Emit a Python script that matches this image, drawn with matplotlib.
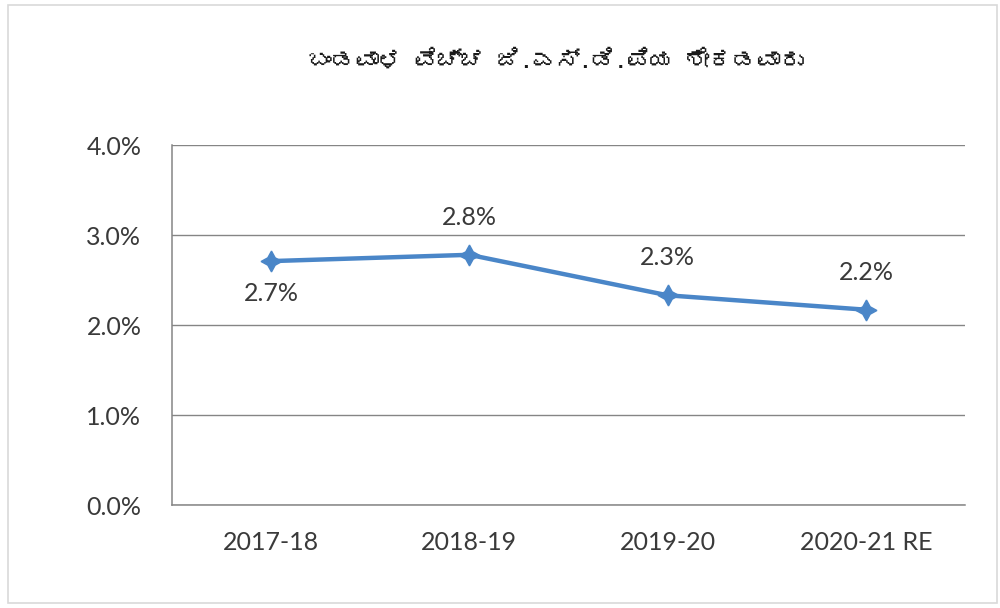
import matplotlib
matplotlib.use("Agg")
import matplotlib.pyplot as plt
from matplotlib import font_manager
from matplotlib.ft2font import FT2Font
from matplotlib.patches import Rectangle

# Capital expenditure as share of GSDP
years = ["2017-18", "2018-19", "2019-20", "2020-21 RE"]
share = [2.71, 2.78, 2.33, 2.17]
label_above = [False, True, True, True]
title = "ಬಂಡವಾಳ ವೆಚ್ಚ ಜಿ.ಎಸ್.ಡಿ.ಪಿಯ ಶೇಕಡವಾರು"
y_ticks = [0, 1, 2, 3, 4]


def find_font(ch):
    # look for any installed font that has the given character
    paths = set(font_manager.findSystemFonts())
    paths |= {f.fname for f in font_manager.fontManager.ttflist}
    for p in sorted(paths):
        try:
            if ord(ch) in FT2Font(p).get_charmap():
                return p
        except Exception:
            continue
    return None


base = "Lato"
title_family = [base, "DejaVu Sans"]
kn_path = find_font("ಬ")
if kn_path:
    font_manager.fontManager.addfont(kn_path)
    kn_name = font_manager.FontProperties(fname=kn_path).get_name()
    title_family = [kn_name, "DejaVu Sans"]

plt.rcParams["font.family"] = [base, "DejaVu Sans"]
text_color = "#3A3A3A"
line_color = "#4A86C8"
label_size = 18

fig = plt.figure(figsize=(10, 6.08), dpi=100)
ax = fig.add_axes([0.172, 0.1694, 0.793, 0.5921])

x = list(range(len(years)))
ax.plot(x, share, color=line_color, linewidth=3.2, marker=(4, 1, 0),
        markersize=15, markerfacecolor=line_color, markeredgecolor=line_color,
        zorder=3)

for xi, v, up in zip(x, share, label_above):
    ax.annotate(f"{v:.1f}%", (xi, v), xytext=(0, 27 if up else -23),
                textcoords="offset points", ha="center", va="center",
                fontsize=label_size, color=text_color)

ax.set_xlim(-0.5, len(years) - 0.5)
ax.set_ylim(0, 4)
ax.set_xticks(x)
ax.set_xticklabels(years)
ax.set_yticks(y_ticks)
ax.set_yticklabels([f"{t:.1f}%" for t in y_ticks])
ax.tick_params(axis="both", length=0, labelsize=label_size, labelcolor=text_color)
ax.tick_params(axis="y", pad=22)
ax.tick_params(axis="x", pad=19)

ax.grid(axis="y", color="#858585", linewidth=1.0)
ax.set_axisbelow(True)
for side in ["top", "right"]:
    ax.spines[side].set_visible(False)
for side in ["left", "bottom"]:
    ax.spines[side].set_color("#858585")
    ax.spines[side].set_linewidth(1.1)

fig.text(0.556, 0.901, title, ha="center", va="center", fontsize=17,
         fontweight="bold", color="#1A1A1A", family=title_family)

# light frame round the whole chart
fig.patches.append(Rectangle((0.008, 0.008), 0.989, 0.984,
                             transform=fig.transFigure, fill=False,
                             edgecolor="#D9D9D9", linewidth=1.2))

fig.savefig("out.png", dpi=100)
